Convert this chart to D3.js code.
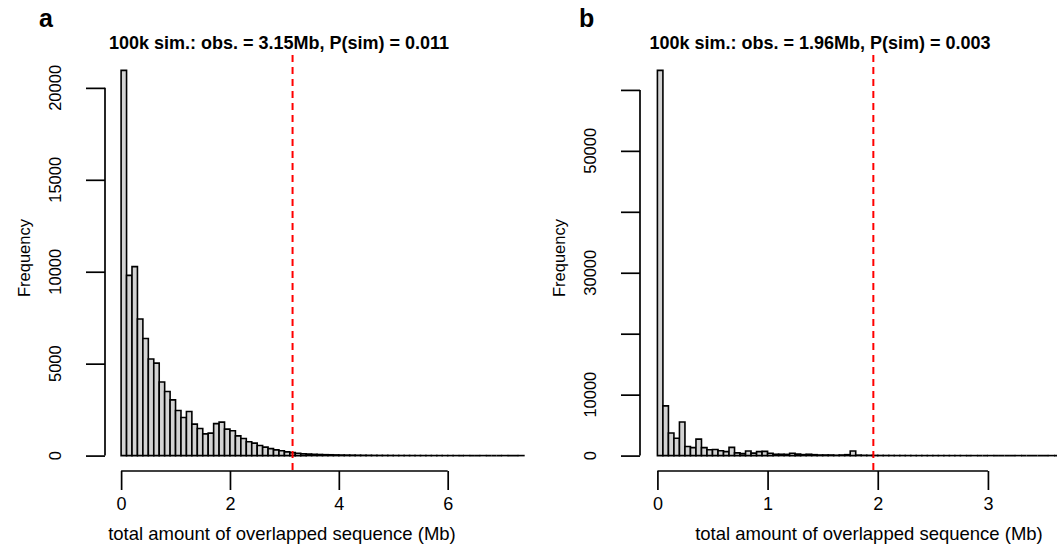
<!DOCTYPE html>
<html>
<head>
<meta charset="utf-8">
<script src="https://cdn.jsdelivr.net/npm/d3@7"></script>
<style>
  body { margin: 0; background: #fff; }
  svg { display: block; font-family: "Liberation Sans", Arial, Helvetica, sans-serif; }
</style>
</head>
<body>
<div id="chart"></div>
<script>
// panel a: 0.1 Mb bins
const binWidthA = 0.1;
const countsA = [
  20950, 9800, 10280, 7430, 6370, 5250, 5030, 4000, 3490, 3030,
  2450, 2070, 2400, 1710, 1470, 1180, 1220, 1740, 1820, 1440,
  1350, 1070, 930, 750, 680, 550, 460, 380, 310, 260,
  200, 160, 130, 100, 85, 70, 60, 50, 45, 38,
  32, 28, 24, 20, 17, 15, 12, 10, 9, 8,
  6, 5, 5, 4, 3, 3, 2, 2, 2, 1,
  1, 1, 0, 1, 0, 0, 1, 0, 0, 0,
  1, 0, 0, 1
];
const xTicksA = [0, 2, 4, 6];
const yTicksA = [0, 5000, 10000, 15000, 20000];
const yLabelsA = [0, 5000, 10000, 15000, 20000];
const obsA = 3.15;
const titleA = "100k sim.: obs. = 3.15Mb, P(sim) = 0.011";

// panel b: 0.05 Mb bins
const binWidthB = 0.05;
const countsB = [
  63200, 8150, 3700, 2850, 5500, 1500, 1300, 2700, 1300, 950,
  1000, 800, 650, 1350, 450, 330, 750, 400, 650, 700,
  380, 220, 220, 200, 380, 270, 160, 220, 150, 100,
  100, 100, 60, 100, 150, 750, 80, 50, 40, 30,
  20, 20, 15, 10, 10, 8, 5, 5, 5, 3,
  3, 2, 2, 1, 1, 1, 0, 1, 0, 0,
  1, 0, 0, 0, 0, 1, 0, 0, 0, 0,
  0, 1, 0, 0, 0, 0, 0, 0, 1
];
const xTicksB = [0, 1, 2, 3];
const yTicksB = [0, 10000, 20000, 30000, 40000, 50000, 60000];
const yLabelsB = [0, 10000, 30000, 50000];
const obsB = 1.96;
const titleB = "100k sim.: obs. = 1.96Mb, P(sim) = 0.003";

const xTitle = "total amount of overlapped sequence (Mb)";
const yTitle = "Frequency";

const W = 1057, H = 549;
const svg = d3.select("#chart").append("svg")
    .attr("width", W)
    .attr("height", H)
    .attr("viewBox", `0 0 ${W} ${H}`);

function drawHist(o) {
    const g = svg.append("g");
    const nb = o.counts.length;
    const xmax = nb * o.binW;
    const ymax = d3.max(o.counts);

    // R style: 4% padding around the data range
    const x = d3.scaleLinear()
        .domain([-0.04 * xmax, 1.04 * xmax])
        .range([o.box.left, o.box.right]);
    const y = d3.scaleLinear()
        .domain([-0.04 * ymax, 1.04 * ymax])
        .range([o.box.bottom, o.box.top]);

    const bins = o.counts.map((c, i) => ({ x0: i * o.binW, x1: (i + 1) * o.binW, n: c }));

    // bars as paths so empty bins still show their outline
    g.selectAll(".bar")
        .data(bins)
        .enter()
        .append("path")
            .attr("class", "bar")
            .attr("d", d => `M${x(d.x0)},${y(0)}V${y(d.n)}H${x(d.x1)}V${y(0)}Z`)
            .attr("fill", "#d3d3d3")
            .attr("stroke", "#000")
            .attr("stroke-width", 1.6)
            .attr("stroke-linejoin", "miter");

    // x axis
    const xa = g.append("g")
        .attr("transform", `translate(0,${o.box.bottom})`)
        .call(d3.axisBottom(x).tickValues(o.xTicks).tickSize(19).tickPadding(7).tickFormat(d3.format("d")))
        .call(a => a.select(".domain").remove());
    xa.append("line")
        .attr("x1", x(o.xTicks[0])).attr("x2", x(o.xTicks[o.xTicks.length - 1]))
        .attr("stroke", "#000").attr("stroke-width", 1.7);
    xa.selectAll(".tick line").attr("stroke", "#000").attr("stroke-width", 1.7);
    xa.selectAll(".tick text")
        .attr("fill", "#000")
        .style("font-size", "18px")
        .style("font-family", "inherit");

    // y axis
    const ya = g.append("g")
        .attr("transform", `translate(${o.box.left},0)`)
        .call(d3.axisLeft(y).tickValues(o.yTicks).tickSize(19).tickFormat(""))
        .call(a => a.select(".domain").remove());
    ya.append("line")
        .attr("y1", y(o.yTicks[0])).attr("y2", y(o.yTicks[o.yTicks.length - 1]))
        .attr("stroke", "#000").attr("stroke-width", 1.7);
    ya.selectAll(".tick line").attr("stroke", "#000").attr("stroke-width", 1.7);

    g.selectAll(".ylab")
        .data(o.yLabels)
        .enter()
        .append("text")
            .attr("class", "ylab")
            .attr("transform", d => `translate(${o.box.left - 44},${y(d)}) rotate(-90)`)
            .attr("text-anchor", "middle")
            .style("font-size", "16.5px")
            .text(d => d);

    // observed value
    g.append("line")
        .attr("x1", x(o.obs)).attr("x2", x(o.obs))
        .attr("y1", o.box.top).attr("y2", o.box.bottom)
        .attr("stroke", "#ff0000")
        .attr("stroke-width", 2)
        .attr("stroke-dasharray", "7,5");

    // texts
    g.append("text")
        .attr("x", o.titleX).attr("y", 49)
        .attr("text-anchor", "middle")
        .style("font-size", "18px")
        .style("font-weight", "bold")
        .text(o.title);

    g.append("text")
        .attr("x", o.tagX).attr("y", 27)
        .style("font-size", "25px")
        .style("font-weight", "bold")
        .text(o.tag);

    g.append("text")
        .attr("x", o.xTitleX).attr("y", 540)
        .attr("text-anchor", "middle")
        .style("font-size", "18.5px")
        .text(xTitle);

    g.append("text")
        .attr("transform", `translate(${o.box.left - 75},258) rotate(-90)`)
        .attr("text-anchor", "middle")
        .style("font-size", "16.5px")
        .text(yTitle);
}

drawHist({
    counts: countsA, binW: binWidthA, obs: obsA,
    xTicks: xTicksA, yTicks: yTicksA, yLabels: yLabelsA,
    box: { left: 105, right: 540, top: 55, bottom: 471 },
    title: titleA, titleX: 279, tag: "a", tagX: 39, xTitleX: 282
});

drawHist({
    counts: countsB, binW: binWidthB, obs: obsB,
    xTicks: xTicksB, yTicks: yTicksB, yLabels: yLabelsB,
    box: { left: 640, right: 1110, top: 55, bottom: 471 },
    title: titleB, titleX: 820, tag: "b", tagX: 579, xTitleX: 869
});
</script>
</body>
</html>
